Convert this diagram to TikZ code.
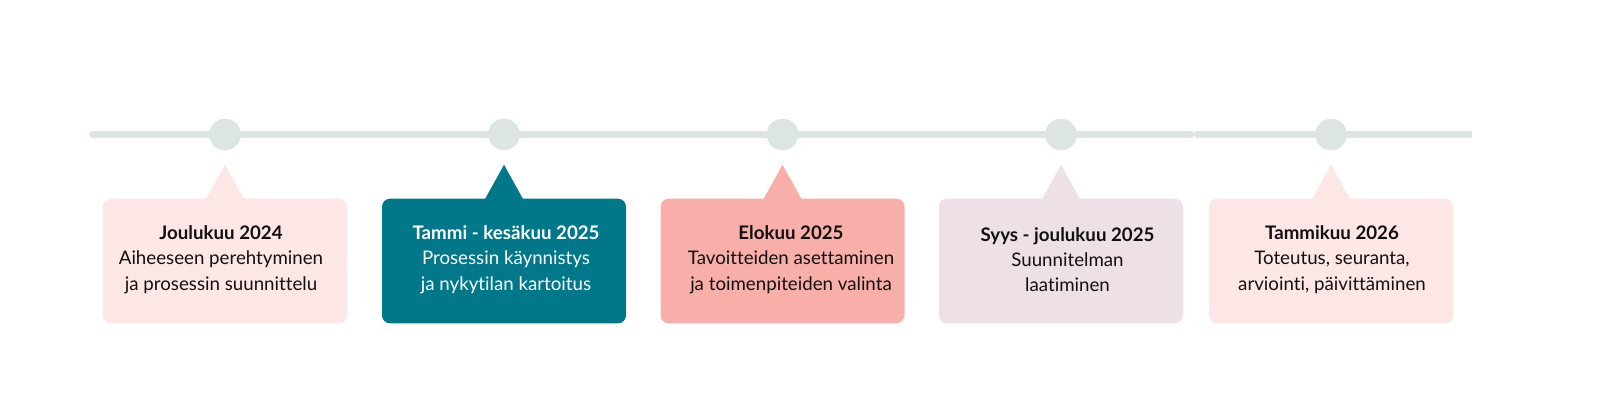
\documentclass[tikz,border=0pt]{standalone}
\usepackage{fontspec}
\setmainfont{Lato}[Ligatures=NoCommon]
\usetikzlibrary{calc}
\definecolor{linegray}{HTML}{DCE5E1}
\definecolor{pinkbox}{HTML}{FDE6E6}
\definecolor{tealbox}{HTML}{00788A}
\definecolor{salmonbox}{HTML}{F8AFA9}
\definecolor{mauvebox}{HTML}{EEE0E7}
\definecolor{txt}{HTML}{111111}
\tikzset{
  dot/.style={circle,fill=linegray,minimum size=31.6pt,inner sep=0pt},
  card/.style={rectangle,rounded corners=8pt,minimum width=244pt,minimum height=124.6pt,inner sep=0pt},
  cardtext/.style={align=center,font=\fontsize{18.7}{25.3}\selectfont,text=txt,inner sep=0pt},
  tline/.style={linegray,line width=7pt}
}
\newcommand{\callout}[2]{% name, colour
  \fill[#2] ($(#1.north)+(-19,0.5)$) -- ($(#1.north)+(0,-33.7)$) -- ($(#1.north)+(19,0.5)$) -- cycle;
}
\begin{document}
\begin{tikzpicture}[x=1pt,y=-1pt]
\useasboundingbox (0,0) rectangle (1600,400);
\coordinate (l0) at (92.5,134.5);
\coordinate (l1) at (1190.5,134.5);
\coordinate (l2) at (1197.5,134.5);
\coordinate (l3) at (1472,134.5);
\draw[tline,line cap=round] (l0) -- (l1);
\draw[tline,line cap=round] (l2) -- ($(l3)+(-4,0)$);
\draw[tline] ($(l3)+(-8,0)$) -- (l3);

\node[dot] (d1) at (225,134.5) {};
\node[dot] (d2) at (504,134.5) {};
\node[dot] (d3) at (782.5,134.5) {};
\node[dot] (d4) at (1061,134.5) {};
\node[dot] (d5) at (1331,134.5) {};

\node[card,fill=pinkbox] (b1) at (225,261) {};
\node[card,fill=tealbox] (b2) at (504,261) {};
\node[card,fill=salmonbox] (b3) at (782.5,261) {};
\node[card,fill=mauvebox] (b4) at (1061,261) {};
\node[card,fill=pinkbox] (b5) at (1331,261) {};

\callout{b1}{pinkbox}
\callout{b2}{tealbox}
\callout{b3}{salmonbox}
\callout{b4}{mauvebox}
\callout{b5}{pinkbox}

\node[cardtext] (t1) at ($(b1.center)+(-4,-1.5)$) {\textbf{Joulukuu 2024}\\Aiheeseen perehtyminen\\ja prosessin suunnittelu};
\node[cardtext,text=white] (t2) at ($(b2.center)+(2,-1.5)$) {\textbf{Tammi - kesäkuu 2025}\\Prosessin käynnistys\\ja nykytilan kartoitus};
\node[cardtext] (t3) at ($(b3.center)+(8.5,-1.5)$) {\textbf{Elokuu 2025}\\Tavoitteiden asettaminen\\ja toimenpiteiden valinta};
\node[cardtext] (t4) at ($(b4.center)+(6.5,-1.5)$) {\textbf{Syys - joulukuu 2025}\\Suunnitelman\\laatiminen};
\node[cardtext] (t5) at ($(b5.center)+(1,-1.5)$) {\textbf{Tammikuu 2026}\\Toteutus, seuranta,\\arviointi, päivittäminen};
\end{tikzpicture}
\end{document}
